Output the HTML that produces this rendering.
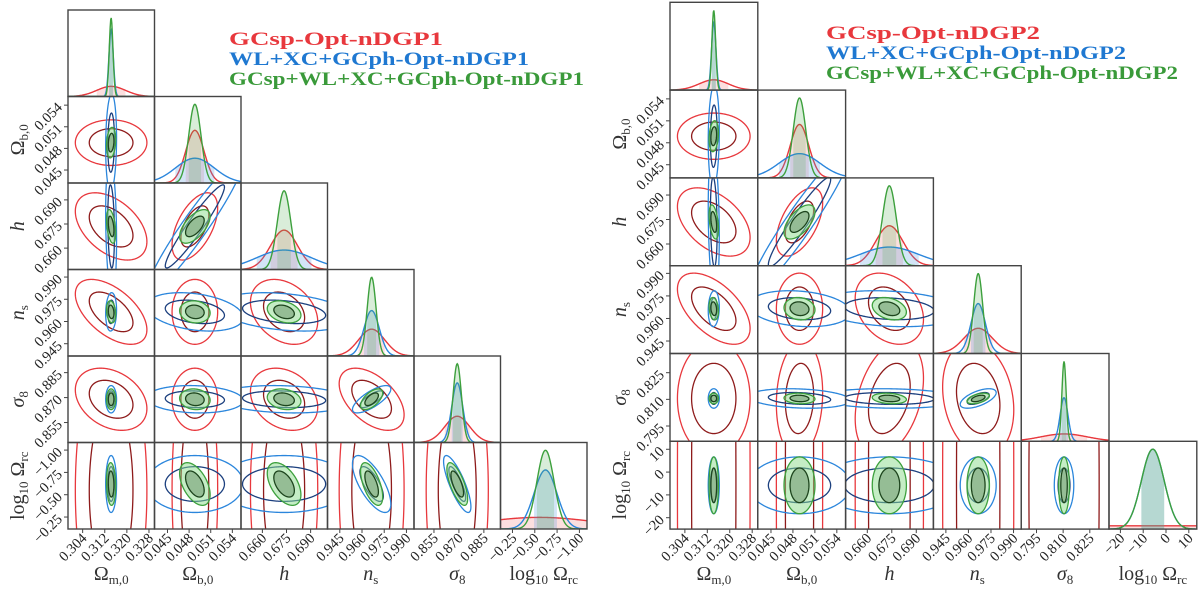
<!DOCTYPE html>
<html><head><meta charset="utf-8"><style>
html,body{margin:0;padding:0;background:#fff;width:1200px;height:597px;overflow:hidden;}
svg{display:block;font-family:"Liberation Serif",serif;overflow:hidden;}
</style></head>
<body>
<svg id="fig" width="1200" height="597" viewBox="0 0 1200 597" xmlns="http://www.w3.org/2000/svg">
<g font-weight="bold" font-size="19">
<text x="229" y="45" fill="#e8383d" textLength="214" lengthAdjust="spacingAndGlyphs">GCsp-Opt-nDGP1</text>
<text x="229" y="65" fill="#1f78d1" textLength="300" lengthAdjust="spacingAndGlyphs">WL+XC+GCph-Opt-nDGP1</text>
<text x="229" y="85" fill="#3a9a3a" textLength="355" lengthAdjust="spacingAndGlyphs">GCsp+WL+XC+GCph-Opt-nDGP1</text>
</g>
<g font-weight="bold" font-size="19">
<text x="826" y="39" fill="#e8383d" textLength="214" lengthAdjust="spacingAndGlyphs">GCsp-Opt-nDGP2</text>
<text x="826" y="59" fill="#1f78d1" textLength="300" lengthAdjust="spacingAndGlyphs">WL+XC+GCph-Opt-nDGP2</text>
<text x="826" y="79" fill="#3a9a3a" textLength="352" lengthAdjust="spacingAndGlyphs">GCsp+WL+XC+GCph-Opt-nDGP2</text>
</g>
</svg>
<script>
// ---------- data ----------
const paramNames = ["Omega_m0","Omega_b0","h","n_s","sigma_8","log10_Omega_rc"];
const ticksOm = [0.304,0.312,0.320,0.328];
const ticksOb = [0.045,0.048,0.051,0.054];
const ticksH = [0.660,0.675,0.690];
const ticksNs = [0.945,0.960,0.975,0.990];
const ticksS8Left = [0.855,0.870,0.885];
const ticksS8Right = [0.795,0.810,0.825];
const ticksLrcLeft = [-0.25,-0.50,-0.75,-1.00];
const ticksLrcRight = [-20,-10,0,10];
const tickLabelsLrcLeft = ["\u22120.25","\u22120.50","\u22120.75","\u22121.00"];
const tickLabelsLrcRight = ["\u221220","\u221210","0","10"];

const rangeLeft = [[0.2987,0.3300],[0.0432,0.0552],[0.6467,0.7005],[0.9367,0.9951],[0.843,0.895],[-0.116,-1.085]];
const rangeRight = [[0.2987,0.3300],[0.0432,0.0552],[0.6467,0.7005],[0.9367,0.9951],[0.7864,0.8358],[-25,13.5]];

// means
const meanLeftRed = [0.3143,0.0488,0.6735,0.9665,0.869,-0.55];
const meanLeftBlue = [0.3143,0.0488,0.6735,0.9665,0.869,-0.62];
const meanLeftGreen = [0.3143,0.0488,0.6735,0.9665,0.869,-0.62];
const meanRightRed = [0.3143,0.0489,0.6735,0.9665,0.8105,-5.8];
const meanRightBlue = [0.3143,0.0489,0.6735,0.9665,0.8105,-5.8];
const meanRightGreen = [0.3143,0.0489,0.6735,0.9665,0.8105,-5.8];
// 1-sigma errors
const sigLeftRed = [0.0052,0.00127,0.0084,0.0088,0.0075,0.65];
const sigLeftBlue = [0.00079,0.0027,0.017,0.0052,0.0033,0.128];
const sigLeftGreen = [0.00067,0.00085,0.0042,0.003,0.0025,0.096];
const sigRightRed = [0.0052,0.00127,0.0084,0.0095,0.013,120];
const sigRightBlue = [0.00079,0.0028,0.018,0.0048,0.0022,5.0];
const sigRightGreen = [0.00067,0.00085,0.0042,0.003,0.0012,5.0];
// correlations, pair order (0,1),(0,2),(0,3),(0,4),(0,5),(1,2),(1,3),(1,4),(1,5),(2,3),(2,4),(2,5),(3,4),(3,5),(4,5)
const corLeftRed =   [0,-0.45,-0.55,-0.3,0, 0.55,0,0,0, -0.3,-0.25,0, -0.5,0, 0];
const corLeftBlue =  [0.1,-0.2,0.1,0,0, 0.95,-0.3,-0.1,0, -0.3,-0.15,0, 0.75,0.7, 0.8];
const corLeftGreen = [0.2,-0.4,-0.2,0,0.1, 0.6,-0.1,-0.1,0.5, -0.3,-0.2,0.5, 0.6,0.6, 0.7];
const corRightRed =  [0,-0.45,-0.55,0,0, 0.55,0,0.1,0, -0.3,0.35,0, -0.2,0, 0];
const corRightBlue = [0.1,-0.2,0.1,0,0, 0.95,-0.2,-0.2,0, -0.2,-0.1,0, 0.6,0, 0];
const corRightGreen= [0.2,-0.4,-0.2,0,0, 0.6,-0.1,-0.1,0, -0.3,-0.2,0, 0.5,0, 0];

// ---------- drawing ----------
const NS = "http://www.w3.org/2000/svg";
const svg = document.getElementById("fig");
function el(tag, attrs, parent){
  const e = document.createElementNS(NS, tag);
  for (const k in attrs) e.setAttribute(k, attrs[k]);
  (parent||svg).appendChild(e);
  return e;
}
function pidx(a,b){ return a*6 - a*(a+1)/2 + (b-a-1); }
function fmt(v,d){ return v.toFixed(d); }
function clamp(v,lo,hi){ return Math.max(lo, Math.min(hi, v)); }

const styles = {
  red:  {line:"#e8383d", fill:"rgba(240,110,110,0.22)", inner:"#8e1b1b", outerFill:"none", innerFill:"none"},
  blue: {line:"#2b86dc", fill:"rgba(80,150,225,0.25)", inner:"#1b3f7e", outerFill:"none", innerFill:"none"},
  green:{line:"#3da03d", fill:"rgba(80,175,80,0.22)", inner:"#1d441d", outerFill:"rgba(140,220,140,0.5)", innerFill:"rgba(90,130,90,0.45)"}
};

function drawTriangle(cfg){
  const g = el("g", {});
  
  
  const c = cfg.cell;
  const sets = [
    {k:"red", m:cfg.means[0], s:cfg.sigs[0], r:cfg.cors[0]},
    {k:"blue", m:cfg.means[1], s:cfg.sigs[1], r:cfg.cors[1]},
    {k:"green", m:cfg.means[2], s:cfg.sigs[2], r:cfg.cors[2]}
  ];
  for (let i=0;i<6;i++){
    for (let j=0;j<=i;j++){
      const px = cfg.x0 + j*c, py = cfg.y0 + i*c;
      const rx = cfg.range[j], ry = cfg.range[i];
      const X = v => px + (v-rx[0])/(rx[1]-rx[0])*c;
      const Y = v => py + c - (v-ry[0])/(ry[1]-ry[0])*c;
      const pg = el("g", {}, g);
      
      
      const cid = cfg.name+"-clip-"+i+"-"+j;
      const cp = el("clipPath", {id:cid}, pg);
      el("rect", {x:px, y:py, width:c, height:c}, cp);
      const inner = el("g", {"clip-path":"url(#"+cid+")"}, pg);
      if (i===j){
        const sMin = Math.min(sets[0].s[i], sets[1].s[i], sets[2].s[i]);
        for (const d of sets){
          const st = styles[d.k], mu = d.m[i], sg = d.s[i];
          const hgt = 0.91*c*sMin/sg;
          const base = py + c;
          const f = v => base - hgt*Math.exp(-0.5*((v-mu)/sg)**2);
          const cx = v => clamp(X(v), px-2, px+c+2);
          let lo = mu - sg, hi = mu + sg;
          let pts = [];
          for (let k=0;k<=60;k++){ const v = lo + (hi-lo)*k/60; pts.push(cx(v).toFixed(2)+","+f(v).toFixed(2)); }
          const sh = el("polygon", {points: cx(lo).toFixed(2)+","+base+" "+pts.join(" ")+" "+cx(hi).toFixed(2)+","+base, fill: st.fill, stroke:"none"}, inner);
          
          
          let lp = [];
          for (let k=0;k<=160;k++){ const v = rx[0] + (rx[1]-rx[0])*k/160; lp.push(X(v).toFixed(2)+","+f(v).toFixed(2)); }
          const ln = el("polyline", {points: lp.join(" "), fill:"none", stroke: st.line, "stroke-width":1.4}, inner);
          
          
        }
      } else {
        for (const d of sets){
          const st = styles[d.k];
          const mx = d.m[j], my = d.m[i], sx = d.s[j], sy = d.s[i];
          const rho = d.r[pidx(j,i)];
          const q = Math.sqrt(Math.max(0,1-rho*rho));
          for (const lev of [{r:2.49, stroke:st.line, fill:st.outerFill, n:"95"},{r:1.52, stroke:st.inner, fill:st.innerFill, n:"68"}]){
            let p = [];
            for (let k=0;k<=240;k++){
              const t = 2*Math.PI*k/240, u = Math.cos(t), w = Math.sin(t);
              const vx = mx + lev.r*sx*u, vy = my + lev.r*sy*(rho*u + q*w);
              const sxp = clamp(X(vx), px-3, px+c+3), syp = clamp(Y(vy), py-3, py+c+3);
              p.push((k?"L":"M")+sxp.toFixed(2)+","+syp.toFixed(2));
            }
            const e = el("path", {d:p.join("")+"Z", fill:lev.fill, stroke:lev.stroke, "stroke-width":1.3}, inner);
            
            
          }
        }
      }
      const fr = el("rect", {x:px, y:py, width:c, height:c, fill:"none", stroke:"#444", "stroke-width":1.4}, pg);
      
      
      if (i===5){
        const tk = cfg.ticks[j];
        tk.forEach((v,n)=>{
          const tx = X(v);
          const t = el("line", {x1:tx, x2:tx, y1:py+c, y2:py+c+4, stroke:"#444", "stroke-width":1}, pg);
          
          
          const lbl = cfg.tickLabels[j] ? cfg.tickLabels[j][n] : fmt(v,3);
          const tt = el("text", {x:tx+5, y:py+c+10, "font-size":14.5, "text-anchor":"end", transform:"rotate(-45 "+(tx+5)+" "+(py+c+10)+")", fill:"#222"}, pg);
          tt.textContent = lbl;
          
          
        });
      }
      if (j===0 && i>0){
        const tk = cfg.ticks[i];
        tk.forEach((v,n)=>{
          const ty = Y(v);
          const t = el("line", {x1:px-4, x2:px, y1:ty, y2:ty, stroke:"#444", "stroke-width":1}, pg);
          
          
          const lbl = cfg.tickLabels[i] ? cfg.tickLabels[i][n] : fmt(v,3);
          const ax = px-5, ay = ty+3;
          const tt = el("text", {x:ax, y:ay, "font-size":14.5, "text-anchor":"end", transform:"rotate(-45 "+ax+" "+ay+")", fill:"#222"}, pg);
          tt.textContent = lbl;
          
          
        });
      }
    }
  }
  const titles = [
    '<tspan>Ω</tspan><tspan font-size="13" dy="4">m,0</tspan>',
    '<tspan>Ω</tspan><tspan font-size="13" dy="4">b,0</tspan>',
    '<tspan font-style="italic">h</tspan>',
    '<tspan font-style="italic">n</tspan><tspan font-size="13" dy="4">s</tspan>',
    '<tspan font-style="italic">σ</tspan><tspan font-size="13" dy="4">8</tspan>',
    '<tspan>log</tspan><tspan font-size="13" dy="4">10</tspan><tspan dy="-4"> Ω</tspan><tspan font-size="13" dy="4">rc</tspan>'
  ];
  for (let j=0;j<6;j++){
    const cx = cfg.x0 + j*c + c/2;
    const t = el("text", {x:cx, y:580, "font-size":20, "text-anchor":"middle", fill:"#333"}, g);
    t.innerHTML = titles[j];
    
    
  }
  for (let i=1;i<6;i++){
    const cy = cfg.y0 + i*c + c/2;
    const t = el("text", {x:cfg.ytx, y:cy, "font-size":20, "text-anchor":"middle", fill:"#333", transform:"rotate(-90 "+cfg.ytx+" "+cy+")"}, g);
    t.innerHTML = titles[i];
    
    
  }
}

drawTriangle({name:"corner-ndgp1", x0:68, y0:10, cell:86.5, ytx:24, range:rangeLeft,
  ticks:[ticksOm,ticksOb,ticksH,ticksNs,ticksS8Left,ticksLrcLeft],
  tickLabels:[null,null,null,null,null,tickLabelsLrcLeft],
  means:[meanLeftRed,meanLeftBlue,meanLeftGreen], sigs:[sigLeftRed,sigLeftBlue,sigLeftGreen], cors:[corLeftRed,corLeftBlue,corLeftGreen]});
drawTriangle({name:"corner-ndgp2", x0:670, y0:2.3, cell:87.8, ytx:626, range:rangeRight,
  ticks:[ticksOm,ticksOb,ticksH,ticksNs,ticksS8Right,ticksLrcRight],
  tickLabels:[null,null,null,null,null,tickLabelsLrcRight],
  means:[meanRightRed,meanRightBlue,meanRightGreen], sigs:[sigRightRed,sigRightBlue,sigRightGreen], cors:[corRightRed,corRightBlue,corRightGreen]});
</script>
</body></html>
